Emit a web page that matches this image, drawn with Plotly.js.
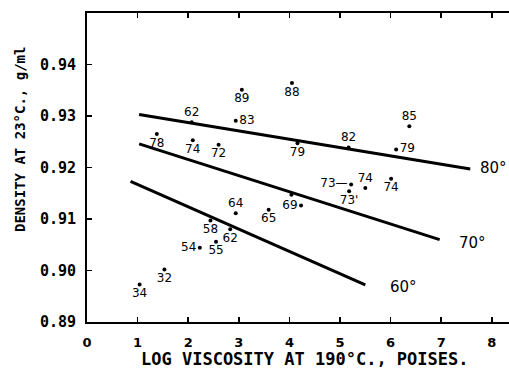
<!DOCTYPE html>
<html>
<head>
<meta charset="utf-8">
<script src="https://cdn.plot.ly/plotly-3.0.1.min.js"></script>
<style>html,body{margin:0;padding:0;background:#fff;}#chart{width:509px;height:368px;}</style>
</head>
<body>
<div id="chart"></div>
<script>
// ---- data ----
const pointX = [1.38, 2.07, 2.09, 2.60, 3.06, 2.94, 4.05, 4.16, 6.37, 5.17, 6.11,
                2.94, 3.59, 4.23, 4.04, 2.44, 2.83, 2.55, 2.23, 1.53, 1.04,
                5.22, 5.50, 5.18, 6.01];
const pointY = [0.9265, 0.9288, 0.9253, 0.9244, 0.9351, 0.9291, 0.9364, 0.9247, 0.9280, 0.9239, 0.9235,
                0.9111, 0.9118, 0.9126, 0.9147, 0.9097, 0.9080, 0.9056, 0.9044, 0.9002, 0.8973,
                0.9167, 0.9160, 0.9154, 0.9178];
const pointLabels = ['78','62','74','72','89','83','88','79','85','82','79',
                     '64','65','69','','58','62','55','54','32','34',
                     '73\u2014','74','73\'','74'];

const lineNames = ['80\u00b0', '70\u00b0', '60\u00b0'];
const line80X = [1.03, 7.575], line80Y = [0.9303, 0.9197];
const line70X = [1.03, 6.97],  line70Y = [0.9246, 0.9060];
const line60X = [0.86, 5.50],  line60Y = [0.9173, 0.8972];

const xTickVals = [0, 1, 2, 3, 4, 5, 6, 7, 8];
const yTickVals = [0.89, 0.90, 0.91, 0.92, 0.93, 0.94];

// ---- label placement (style) ----
const labelPos = ['bottom center','top center','bottom center','bottom center','bottom center','middle right',
                  'bottom center','bottom center','top center','top center','middle right',
                  'top center','bottom center','middle left','bottom center','bottom center','bottom center',
                  'bottom center','middle left','bottom center','bottom center',
                  'middle left','top center','bottom center','bottom center'];
const lineLabelAt = [[8.03, 0.9200], [7.62, 0.9053], [6.25, 0.8967]];

const FONT = 'DejaVu Sans, Arial, sans-serif';
const MONO = 'DejaVu Sans Mono, Liberation Mono, monospace';
const lineStyle = {color: '#000', width: 3};

const traces = [
  {x: line80X, y: line80Y, mode: 'lines', line: lineStyle, hoverinfo: 'skip', name: lineNames[0]},
  {x: line70X, y: line70Y, mode: 'lines', line: lineStyle, hoverinfo: 'skip', name: lineNames[1]},
  {x: line60X, y: line60Y, mode: 'lines', line: lineStyle, hoverinfo: 'skip', name: lineNames[2]},
  {x: pointX, y: pointY, text: pointLabels, mode: 'markers+text',
   textposition: labelPos,
   textfont: {family: FONT, size: 12, color: '#000'},
   marker: {color: '#000', size: 4}, name: 'samples'}
];

const annotations = lineNames.map((t, i) => ({
  x: lineLabelAt[i][0], y: lineLabelAt[i][1], xref: 'x', yref: 'y',
  text: t, showarrow: false, font: {family: FONT, size: 15, color: '#000'}
}));
annotations.push({
  xref: 'paper', yref: 'paper', x: 0.517, y: 0, yshift: -37, yanchor: 'middle',
  text: 'LOG VISCOSITY AT 190\u00b0C., POISES.', showarrow: false,
  font: {family: MONO, size: 17, color: '#000', weight: 'bold'}
});
annotations.push({
  xref: 'paper', yref: 'paper', x: 0, xshift: -67, y: 0.589, xanchor: 'center', yanchor: 'middle',
  textangle: -90, text: 'DENSITY AT 23\u00b0C., g/ml', showarrow: false,
  font: {family: MONO, size: 14, color: '#000', weight: 'bold'}
});

const layout = {
  width: 509, height: 368,
  margin: {l: 87, r: 0, t: 13, b: 46, pad: 0},
  paper_bgcolor: '#fff', plot_bgcolor: '#fff',
  showlegend: false,
  xaxis: {
    range: [0, 8.34], tickvals: xTickVals, ticktext: xTickVals.map(String),
    showgrid: false, zeroline: false,
    showline: true, linecolor: '#000', linewidth: 2, mirror: 'ticks',
    ticks: 'inside', ticklen: 5, tickwidth: 1.5, tickcolor: '#000',
    ticklabelstandoff: 7,
    tickfont: {family: FONT, size: 13, color: '#000', weight: 'bold'}
  },
  yaxis: {
    range: [0.89, 0.95], tickvals: yTickVals, tickformat: '.2f',
    showgrid: false, zeroline: false,
    showline: true, linecolor: '#000', linewidth: 2,
    ticks: 'inside', ticklen: 5, tickwidth: 1.5, tickcolor: '#000',
    ticklabelstandoff: 6,
    tickfont: {family: MONO, size: 15, color: '#000', weight: 'bold'}
  },
  annotations: annotations
};

Plotly.newPlot('chart', traces, layout, {staticPlot: true, displayModeBar: false});
</script>
</body>
</html>
